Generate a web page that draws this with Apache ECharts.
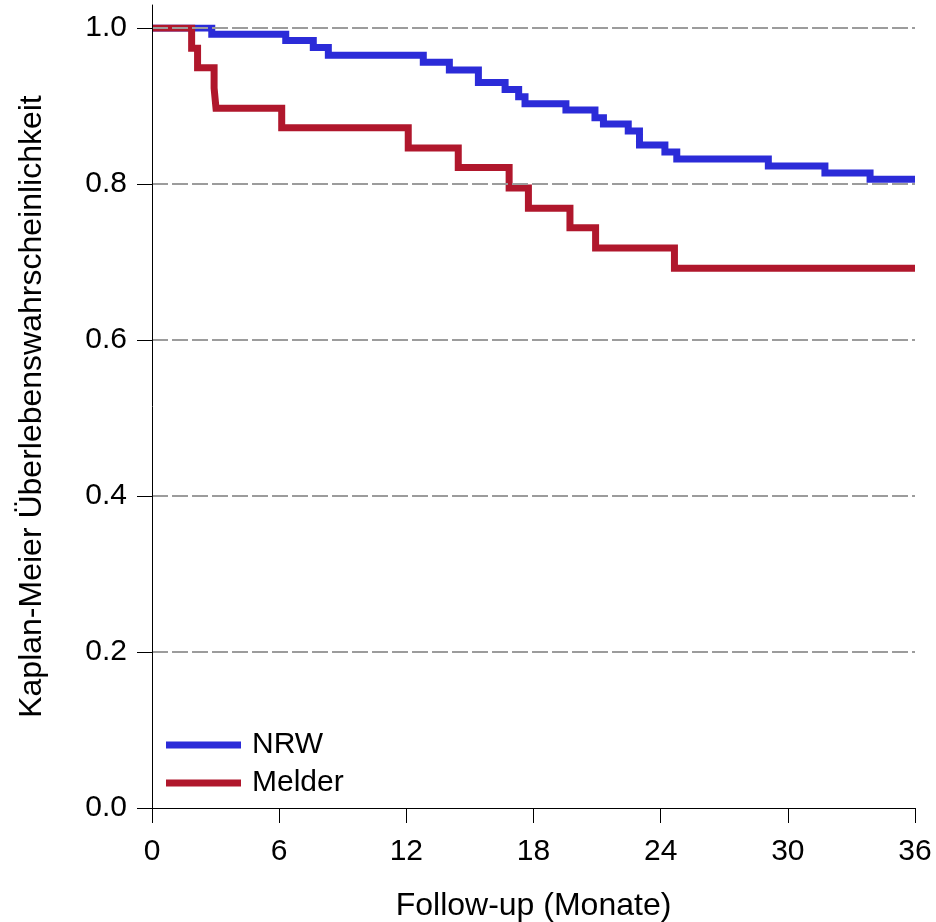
<!DOCTYPE html>
<html>
<head>
<meta charset="utf-8">
<script src="https://cdn.jsdelivr.net/npm/echarts@6/dist/echarts.min.js"></script>
<style>
  html, body { margin: 0; padding: 0; background: #fff; }
  #chart { width: 936px; height: 922px; }
</style>
</head>
<body>
<div id="chart"></div>
<script>
// Kaplan-Meier survival estimates: [month, survival probability] at each step
const nrwSteps = [
  [0, 1.0], [2.82, 0.992], [6.31, 0.984], [7.61, 0.975], [8.32, 0.965],
  [12.8, 0.956], [14.03, 0.946], [15.4, 0.930], [16.66, 0.921], [17.3, 0.912],
  [17.6, 0.903], [19.53, 0.895], [20.9, 0.885], [21.3, 0.877], [22.47, 0.868],
  [23.0, 0.850], [24.2, 0.841], [24.76, 0.832], [29.08, 0.823], [31.75, 0.814],
  [33.88, 0.806], [36, 0.806]
];
const melderSteps = [
  [0, 1.0], [1.87, 0.974], [2.15, 0.949], [2.93, 0.923], [3.02, 0.897],
  [6.12, 0.872], [12.09, 0.846], [14.45, 0.821], [16.85, 0.795], [17.76, 0.769],
  [19.72, 0.744], [20.93, 0.718], [24.65, 0.692], [36, 0.692]
];
const seriesNames = ['NRW', 'Melder'];
const seriesColors = ['#2b2bd8', '#b0172c'];
const xTitle = 'Follow-up (Monate)';
const yTitle = 'Kaplan-Meier Überlebenswahrscheinlichkeit';

const FONT = 'Liberation Sans, Arial, sans-serif';
const chart = echarts.init(document.getElementById('chart'), null, { renderer: 'canvas' });

function stepSeries(name, data, color) {
  return {
    name: name,
    type: 'line',
    step: 'end',
    data: data,
    xAxisIndex: 0,
    yAxisIndex: 0,
    showSymbol: false,
    symbol: 'none',
    animation: false,
    lineStyle: { color: color, width: 7, cap: 'butt', join: 'miter' },
    itemStyle: { color: color },
    z: 2
  };
}

const axisText = { fontFamily: FONT, fontSize: 30, color: '#000' };
const blackLine = { color: '#000', width: 1 };

chart.setOption({
  animation: false,
  backgroundColor: '#ffffff',
  grid: [
    // plotting area, 0 to 1.0
    { left: 152, right: 21, top: 28, bottom: 114, containLabel: false, outerBoundsMode: 'none' },
    // same area with a little headroom, carries the vertical axis line and its title
    { left: 152, right: 21, top: 5, bottom: 114, containLabel: false, outerBoundsMode: 'none' }
  ],
  legend: {
    data: seriesNames,
    orient: 'vertical',
    left: 161,
    top: 725,
    itemWidth: 75,
    itemHeight: 7,
    itemGap: 8,
    icon: 'rect',
    textStyle: { fontFamily: FONT, fontSize: 30, color: '#000', padding: [0, 0, 0, 6] }
  },
  xAxis: [
    {
      gridIndex: 0,
      type: 'value',
      min: 0,
      max: 36,
      interval: 6,
      name: xTitle,
      nameLocation: 'middle',
      nameGap: 82,
      nameTextStyle: { fontFamily: FONT, fontSize: 32, color: '#000' },
      axisLine: { show: true, onZero: false, lineStyle: blackLine },
      axisTick: { show: true, inside: false, length: 15, lineStyle: blackLine },
      axisLabel: Object.assign({ margin: 29 }, axisText),
      splitLine: { show: false }
    },
    {
      gridIndex: 1,
      type: 'value',
      min: 0,
      max: 36,
      show: false
    }
  ],
  yAxis: [
    {
      gridIndex: 0,
      type: 'value',
      min: 0,
      max: 1.0,
      interval: 0.2,
      z: 3,
      axisLine: { show: false },
      axisTick: { show: true, inside: false, length: 15, lineStyle: blackLine },
      axisLabel: Object.assign({
        margin: 25,
        formatter: function (v) { return v.toFixed(1); }
      }, axisText),
      splitLine: {
        show: true,
        showMinLine: false,
        lineStyle: { color: '#9c9c9c', width: 2, type: [16, 4] }
      }
    },
    {
      gridIndex: 1,
      type: 'value',
      min: 0,
      max: 1.03,
      z: 3,
      name: yTitle,
      nameLocation: 'middle',
      nameGap: 104,
      nameTextStyle: { fontFamily: FONT, fontSize: 32, color: '#000' },
      axisLine: { show: true, onZero: false, lineStyle: blackLine },
      axisTick: { show: false },
      axisLabel: { show: false },
      splitLine: { show: false }
    }
  ],
  series: [
    stepSeries(seriesNames[0], nrwSteps, seriesColors[0]),
    stepSeries(seriesNames[1], melderSteps, seriesColors[1])
  ]
});
</script>
</body>
</html>
